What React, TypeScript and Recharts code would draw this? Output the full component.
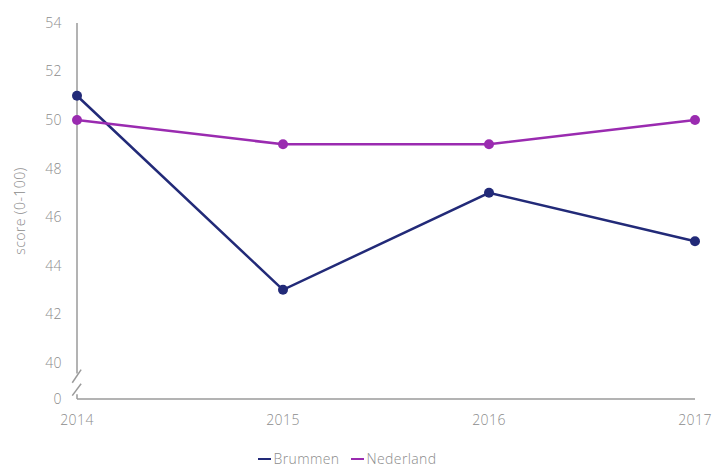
import { LineChart, Line, XAxis, YAxis, ReferenceLine, Legend, Label } from "recharts"

const years = [2014, 2015, 2016, 2017]
const brummen = [51, 43, 47, 45]
const nederland = [50, 49, 49, 50]
// 38.5 sits where the broken axis shows "0"
const yTicks = [38.5, 40, 42, 44, 46, 48, 50, 52, 54]
const breakValue = 38.5

const data = years.map((year, i) => ({
  year,
  Brummen: brummen[i],
  Nederland: nederland[i],
}))

const textColor = "#8c8c8c"
const axisColor = "#9a9a9a"
const navy = "#222a78"
const purple = "#9a2bb0"
const tickStyle = { fill: textColor, fontSize: 14, fontWeight: 300, letterSpacing: 0.4 }

function LegendContent() {
  const items = [
    { name: "Brummen", color: navy },
    { name: "Nederland", color: purple },
  ]
  return (
    <div
      style={{
        display: "flex",
        justifyContent: "center",
        gap: 12,
        fontSize: 14,
        fontWeight: 300,
        letterSpacing: 0.4,
        color: textColor,
        paddingTop: 6,
      }}
    >
      {items.map((it) => (
        <span key={it.name} style={{ display: "flex", alignItems: "center" }}>
          <span style={{ width: 13, height: 2, background: it.color, marginRight: 2, display: "inline-block" }} />
          {it.name}
        </span>
      ))}
    </div>
  )
}

export default function App() {
  return (
    <div style={{ position: "absolute", left: 0, top: 0, fontFamily: "'Open Sans', sans-serif" }}>
      <LineChart width={716} height={467} data={data} margin={{ top: 23, right: 21, bottom: 0, left: 0 }}>
        <XAxis
          dataKey="year"
          type="number"
          domain={[2014, 2017]}
          ticks={years}
          tickLine={false}
          tickMargin={10}
          axisLine={{ stroke: axisColor, strokeWidth: 1.5 }}
          tick={tickStyle}
          height={44}
        />
        <YAxis
          type="number"
          domain={[breakValue, 54]}
          ticks={yTicks}
          tickLine={false}
          axisLine={false}
          tickMargin={9}
          width={77}
          tick={tickStyle}
          tickFormatter={(v: number) => (v === breakValue ? "0" : String(v))}
        >
          <Label
            value="score (0-100)"
            angle={-90}
            position="insideLeft"
            offset={20}
            style={{ fill: textColor, fontSize: 14, fontWeight: 300, letterSpacing: 0.4, textAnchor: "middle" }}
          />
        </YAxis>
        {/* broken y axis line with break marks */}
        <ReferenceLine
          segment={[{ x: 2014, y: 54 }, { x: 2014, y: 39.55 }]}
          stroke={axisColor}
          strokeWidth={1.5}
          ifOverflow="visible"
        />
        <ReferenceLine
          segment={[{ x: 2014, y: 38.7 }, { x: 2014, y: breakValue }]}
          stroke={axisColor}
          strokeWidth={1.5}
          ifOverflow="visible"
        />
        <ReferenceLine
          segment={[{ x: 2013.977, y: 39.17 }, { x: 2014.02, y: 39.71 }]}
          stroke={axisColor}
          strokeWidth={1.5}
          ifOverflow="visible"
        />
        <ReferenceLine
          segment={[{ x: 2013.977, y: 38.64 }, { x: 2014.02, y: 39.13 }]}
          stroke={axisColor}
          strokeWidth={1.5}
          ifOverflow="visible"
        />
        <Line
          dataKey="Brummen"
          stroke={navy}
          strokeWidth={2.5}
          dot={{ r: 5, fill: navy, stroke: navy, strokeWidth: 0 }}
          activeDot={false}
          isAnimationActive={false}
        />
        <Line
          dataKey="Nederland"
          stroke={purple}
          strokeWidth={2.5}
          dot={{ r: 5, fill: purple, stroke: purple, strokeWidth: 0 }}
          activeDot={false}
          isAnimationActive={false}
        />
        <Legend verticalAlign="bottom" height={24} content={<LegendContent />} />
      </LineChart>
    </div>
  )
}
